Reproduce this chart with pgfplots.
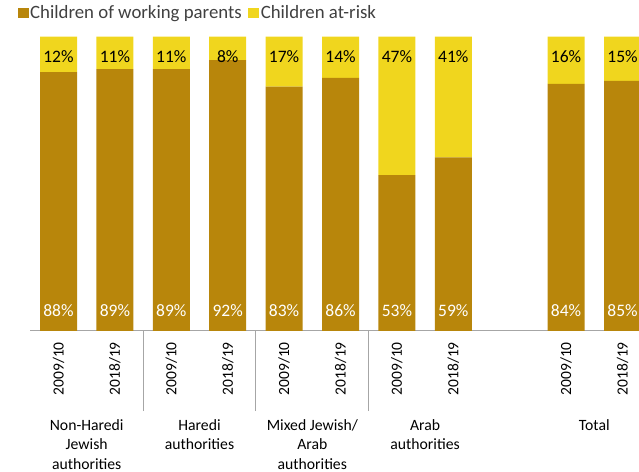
\documentclass[border=0pt]{standalone}
\usepackage{pgfplots}
\pgfplotsset{compat=1.18}
\usepackage{pgfplotstable}
\usepackage{fontspec}
\setmainfont{Carlito}
\definecolor{gold}{HTML}{B8860B}
\definecolor{yel}{HTML}{F0D61E}
\definecolor{sepgray}{HTML}{A6A6A6}
\definecolor{leggray}{HTML}{404040}

\pgfplotstableread{
x w r wl rl
0 88 12 88 12
1 89 11 89 11
2 89 11 89 11
3 92 8 92 8
4 83 17 83 17
5 86 14 86 14
6 53 47 53 47
7 59 41 59 41
9 84 16 84 16
10 85 15 85 15
}\data

\begin{document}
\begin{tikzpicture}
\useasboundingbox (0,0) rectangle (639bp,472bp);
\clip (0,0) rectangle (639bp,472bp);
\begin{axis}[
  at={(30.3bp,141bp)}, anchor=south west,
  scale only axis, width=620.4bp, height=294.3bp,
  ybar stacked, bar width=37bp,
  xmin=-0.5, xmax=10.5, ymin=0, ymax=100,
  axis x line*=bottom, axis y line=none,
  axis line style={draw=sepgray, line width=1bp},
  xtick={0,1,2,3,4,5,6,7,9,10},
  xticklabels={2009/10,2018/19,2009/10,2018/19,2009/10,2018/19,2009/10,2018/19,2009/10,2018/19},
  xticklabel style={yshift=-11bp, rotate=90, anchor=east, inner sep=0pt, font=\fontsize{15.5bp}{18bp}\selectfont, text=black},
  major tick length=0pt,
  extra x ticks={1.5,3.5,5.5},
  extra x tick labels={},
  extra x tick style={tick align=outside, major tick length=80bp, tick style={draw=sepgray, line width=1bp}},
  legend columns=2,
  legend style={draw=none, fill=none, at={(0,1)}, anchor=west, xshift=-12.8bp, yshift=23.7bp,
    font=\fontsize{18.8bp}{22bp}\selectfont, text=leggray, inner sep=0pt,
    nodes={inner sep=1.5bp},
    /tikz/every even column/.append style={column sep=5bp}},
  legend image code/.code={\fill[#1] (0bp,-5bp) rectangle (11bp,5bp);},
]
\addplot[fill=gold, draw=none] table[x=x, y=w] {\data};
\addlegendentry{Children of working parents}
\addplot[fill=yel, draw=none] table[x=x, y=r] {\data};
\addlegendentry{Children at-risk}
\end{axis}
\begin{axis}[
  at={(30.3bp,141bp)}, anchor=south west,
  scale only axis, width=620.4bp, height=294.3bp,
  xmin=-0.5, xmax=10.5, ymin=0, ymax=100,
  axis x line*=bottom, axis y line=none,
  axis line style={draw=none},
  xtick={0.5,2.5,4.5,6.5,9.5},
  xticklabels={Non-Haredi\\Jewish\\authorities, Haredi\\authorities, Mixed Jewish/\\Arab\\authorities, Arab\\authorities, Total},
  xticklabel style={align=center, anchor=north, yshift=-88bp, inner sep=0pt, font=\fontsize{15.7bp}{19.5bp}\selectfont, text=black},
  major tick length=0pt,
  clip=false,
]
\addplot[draw=none, mark=none, nodes near coords={\pgfplotspointmeta\%}, point meta=explicit symbolic,
  every node near coord/.append style={anchor=center, text=white, font=\fontsize{17.5bp}{20bp}\selectfont}]
  table[x=x, y expr=7.1, meta=wl] {\data};
\addplot[draw=none, mark=none, nodes near coords={\pgfplotspointmeta\%}, point meta=explicit symbolic,
  every node near coord/.append style={anchor=center, text=black, font=\fontsize{17.5bp}{20bp}\selectfont}]
  table[x=x, y expr=93.1, meta=rl] {\data};
\end{axis}
\end{tikzpicture}
\end{document}
